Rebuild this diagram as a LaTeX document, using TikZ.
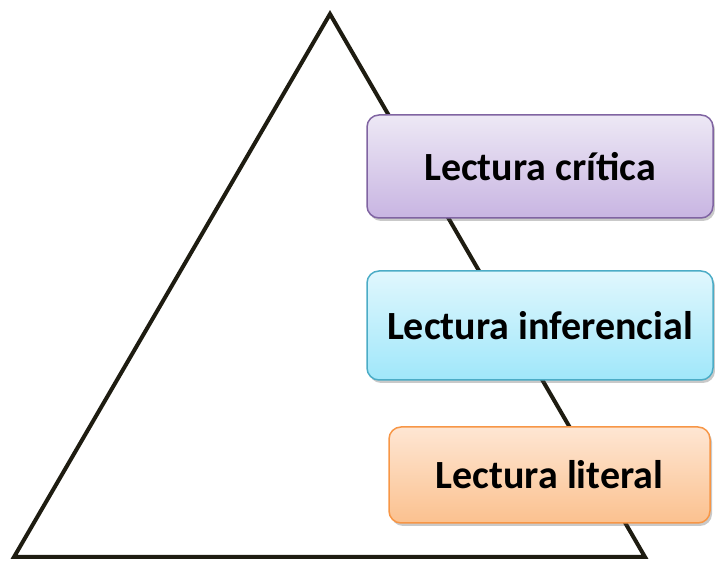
\documentclass[tikz,border=0pt]{standalone}
\usepackage{fontspec}
\setmainfont{Carlito}
\usetikzlibrary{shadows}
\definecolor{trianglecol}{HTML}{1E1C11}
\definecolor{critborder}{HTML}{8064A2}
\definecolor{crittop}{HTML}{EDE8F5}
\definecolor{critbot}{HTML}{C8B5E2}
\definecolor{infborder}{HTML}{4BACC6}
\definecolor{inftop}{HTML}{E0F7FD}
\definecolor{infbot}{HTML}{A0E7FA}
\definecolor{litborder}{HTML}{F79646}
\definecolor{littop}{HTML}{FEE6D3}
\definecolor{litbot}{HTML}{FBC18F}
\begin{document}
\begin{tikzpicture}[x=1pt,y=1pt,
    levelbox/.style={rounded corners=12pt, line width=1.5pt, inner sep=0pt,
      font=\fontsize{40}{46}\selectfont\bfseries,
      drop shadow={shadow xshift=2pt, shadow yshift=-3pt, opacity=.3, fill=black!70}}]

      \useasboundingbox (0,0) rectangle (715,561);

      \coordinate (apex) at (330,547);
      \coordinate (bl)   at (14,4);
      \coordinate (br)   at (645,4);
      \draw[trianglecol, line width=4pt] (apex) -- (bl) -- (br) -- cycle;

      \begin{scope}[every node/.style={levelbox}]
        \node[draw=critborder, top color=crittop, bottom color=critbot,
              minimum width=346pt, minimum height=103pt] (critica) at (540,394.5)
              {Lectura crítica};
        \node[draw=infborder, top color=inftop, bottom color=infbot,
              minimum width=346pt, minimum height=109pt] (inferencial) at (540,235.5)
              {Lectura inferencial};
        \node[draw=litborder, top color=littop, bottom color=litbot,
              minimum width=321pt, minimum height=96pt] (literal) at (549.5,86)
              {Lectura literal};
      \end{scope}

    \end{tikzpicture}
\end{document}
